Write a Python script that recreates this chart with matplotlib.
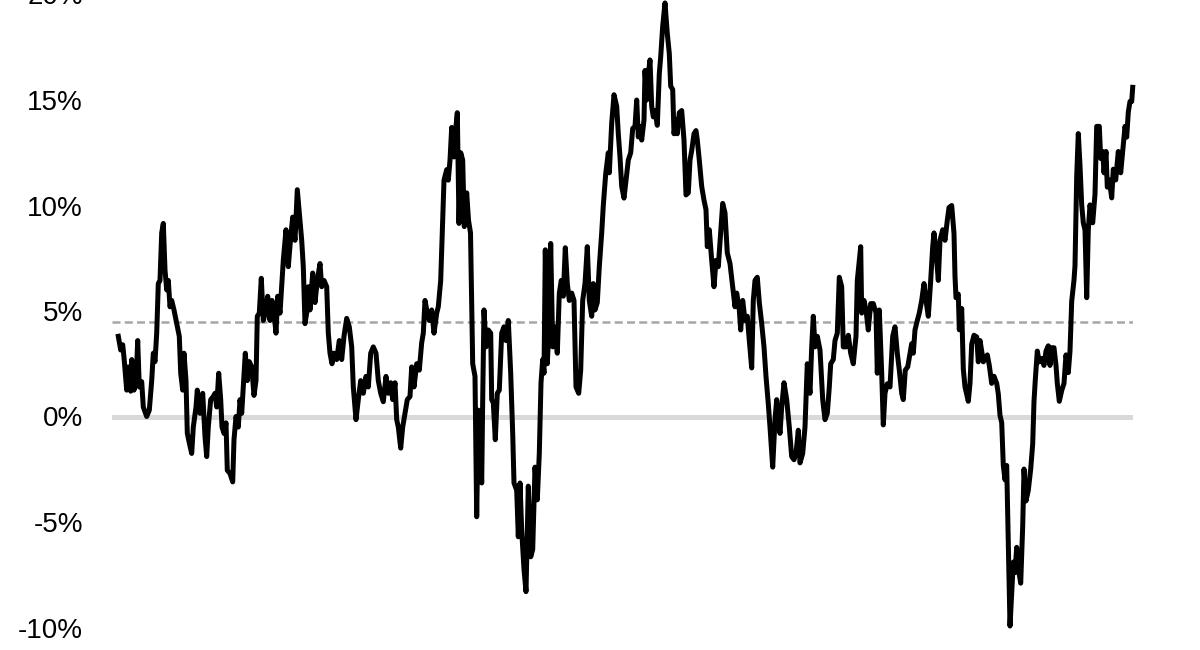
import matplotlib.pyplot as plt
from matplotlib.ticker import FuncFormatter

plt.rcParams['font.family'] = ['Liberation Sans', 'DejaVu Sans']

# time position (periods) and value in %
t = [0.3, 2.7, 4.7, 6, 8.7, 10.3, 12.7, 13.7, 16, 18,
     19.7, 21.3, 23.7, 25.3, 28.7, 31.3, 33.7, 35.3, 37, 38.7,
     40.3, 42, 43.7, 45.3, 47, 48.7, 50.3, 52, 53.7, 56,
     58.7, 61.3, 62.7, 64.7, 66, 68, 69.3, 71.3, 73.7, 75.3,
     78, 79.3, 82, 84.7, 87, 88.7, 90.3, 92.7, 95.3, 97,
     98.7, 100.7, 102.7, 104, 106, 108, 109.3, 112, 114.7, 116,
     118, 120.3, 122, 123.7, 125.3, 127.3, 129.3, 131.3, 133.7, 136,
     138, 139.3, 141.3, 143.3, 145.3, 147.3, 149.7, 152, 154, 156,
     158, 159.7, 162, 165.3, 168, 170.3, 172.7, 174.7, 177, 179.3,
     181.3, 183.7, 185.3, 187, 188.7, 190.3, 192, 194.7, 197, 199.3,
     202, 203.7, 206, 208.7, 210.3, 212, 214, 216, 218.7, 221.3,
     223.7, 226, 228.7, 231.3, 233.7, 235.3, 238, 240.3, 242.7, 245.3,
     248, 250.3, 252.7, 255.3, 258, 260.3, 262.7, 265.3, 268, 270.3,
     272.7, 274.7, 277, 278.7, 280.3, 282.7, 284.7, 287, 289.3, 292,
     293.7, 296, 298.7, 301.3, 303.7, 305.3, 307, 309.3, 311.3, 313.7,
     316, 318.7, 320.3, 322.7, 324.7, 326, 328.7, 330.3, 332, 333.7,
     336, 337.3, 339.3, 341, 342.7, 344.7, 346.3, 348.7, 350.5, 352.5,
     354.7, 357, 358.7, 360.3, 362, 363.7, 364.7, 366, 368, 370.3,
     372.7, 373.7, 375.3, 377.3, 379.3, 381.3, 383.7, 386, 388, 390.3,
     392.7, 394.7, 396, 398.7, 400.3, 402, 403.7, 406, 408, 410.3,
     412.7, 414.7, 417, 419.3, 421.3, 423, 424.7, 426, 427.3, 429.3,
     431.3, 432.7, 434.7, 436.7, 439.3, 441.3, 443.3, 445.3, 447.3, 449.3,
     451.3, 453.7, 456, 458, 460.7, 462.7, 464.7, 467, 469.3, 471.3,
     473.7, 475.3, 477, 479.3, 481.3, 483.7, 485.3, 487.7, 490.3, 491.3,
     493.7, 496, 498.7, 500.3, 502, 503.7, 506, 508, 510.3, 512.7,
     514.7, 517, 518.7, 520.3, 522, 523.7, 526, 527, 528.7, 530.3,
     532, 533.7, 535.3, 537, 539.3, 541.3, 542.7, 544.7, 547, 549.3,
     551.3, 552.7, 554.7, 556, 558, 559.3, 561.3, 563.7, 566, 568,
     570.3, 572, 573.7, 576, 578, 579.3, 581.3, 583.7, 586, 588,
     589.3, 591.3, 593.7, 596, 598, 600.3, 602.7, 604.7, 607, 609.3,
     612, 614.7, 617, 618.7, 621.3, 622.7, 624.7, 627, 629.3, 631.3,
     633.7, 635.3, 637, 639.3, 641.3, 643.7, 646, 648, 650.3, 652,
     654.7, 657, 658.7, 660.3, 662, 663.7, 666, 668.7, 671.3, 673.7,
     676, 678, 680.3, 682, 684.7, 687, 689.3, 692, 693.7, 695.3,
     697, 699.3, 702, 704.7, 707, 709.3, 711.3, 712.7, 715.3, 717,
     719.3, 721.3, 723.7, 725.3, 728, 730.3, 732.7, 735.3, 738, 739.3,
     741.3, 742.7, 743.7, 746, 748, 750.3, 752.7, 755.3, 758, 759.3,
     761.3, 763.7, 765.3, 767, 769.3, 772, 774.7, 777, 779.3, 781.3,
     783.7, 785.3, 787.3, 789.7, 792, 793.7, 795.3, 797, 799.3, 801.3,
     803.7, 806, 808, 810.3, 812.7, 814.7, 816, 818.7, 820.3, 822,
     824.7, 827, 829.3, 831, 833.7, 836, 837, 838, 840.3, 841.3,
     843.7, 845.3, 847, 850.3, 852, 853.7, 856, 858.7, 860.3, 862,
     863.7, 865.3, 869.3, 871.3, 873.7, 876, 878.7, 880.3, 882, 883.7,
     885.3, 887, 888.7, 890.3, 892, 893.7, 895.3, 897, 898.7, 900.3,
     902.7, 904.7, 906, 908, 910.3, 912.7, 914.7, 916, 917.3, 919.3,
     921.3, 923.7, 926, 928, 930.3, 932, 933.7, 936, 938, 939.3,
     941.3, 943.7, 946, 948, 950.3, 952, 953.7, 956, 957, 958.7,
     960.3, 962, 963.7, 965.3, 967, 968.7, 970.3, 972, 974.7, 977,
     978.7, 981.3, 982.7, 984.7, 986, 988, 989.3, 991.3, 993.7, 995.3,
     997.7, 1000.3, 1002.7, 1004.7, 1007, 1008.7, 1010.3, 1012, 1013.7, 1014.7]

excess = [3.8, 3.15, 3.4, 2.8, 1.25, 2.35, 1.2, 2.7, 1.25, 1.6,
          3.6, 1.4, 1.65, 0.45, 0.0, 0.3, 1.7, 3.0, 2.6, 3.95,
          6.3, 6.45, 8.7, 9.15, 6.95, 6.0, 6.45, 5.2, 5.5, 5.05,
          4.4, 3.8, 2.05, 1.25, 3.0, 1.7, -0.8, -1.25, -1.75, -0.5,
          0.45, 1.25, 0.15, 1.1, -0.95, -1.9, -0.5, 0.8, 0.95, 1.1,
          0.45, 2.05, 0.8, -0.5, -0.8, -0.3, -2.55, -2.7, -3.1, -1.1,
          0.0, -0.5, 0.8, 0.15, 1.4, 3.0, 1.7, 2.6, 2.35, 1.0,
          1.7, 4.75, 4.9, 6.55, 4.55, 4.9, 5.7, 4.55, 5.5, 4.9,
          3.95, 5.7, 4.9, 7.4, 8.85, 7.1, 8.5, 9.45, 8.35, 10.75,
          9.65, 8.35, 7.1, 4.4, 4.9, 6.15, 5.05, 6.8, 5.4, 6.45,
          7.25, 6.15, 6.45, 6.15, 3.95, 3.0, 2.5, 3.0, 2.7, 3.6,
          2.7, 3.8, 4.65, 4.25, 3.3, 1.4, -0.15, 0.8, 1.7, 1.1,
          1.9, 1.4, 3.0, 3.3, 3.0, 1.7, 1.1, 0.7, 1.9, 1.1,
          1.6, 0.8, 1.6, -0.15, -0.5, -1.5, -0.5, 0.15, 0.8, 0.95,
          2.35, 1.4, 2.5, 2.2, 3.5, 3.95, 5.5, 4.9, 4.55, 5.05,
          3.95, 4.9, 5.2, 6.45, 9.3, 11.2, 11.7, 11.2, 12.15, 13.7,
          12.3, 13.4, 14.4, 9.15, 12.5, 12.15, 9.0, 10.6, 9.3, 8.7,
          2.5, 1.9, -4.75, 0.3, -1.1, -3.15, 0.8, 5.05, 3.3, 4.1,
          3.95, 0.8, 0.65, -1.1, 1.1, 1.25, 3.95, 4.25, 3.6, 4.55,
          2.05, -0.8, -3.15, -3.5, -5.7, -3.15, -5.4, -7.25, -8.3, -3.3,
          -6.65, -6.3, -2.4, -3.95, -1.75, 1.6, 2.7, 2.05, 7.9, 2.5,
          4.55, 8.2, 3.3, 4.25, 3.0, 5.85, 6.45, 5.7, 8.0, 6.3,
          5.5, 5.85, 5.5, 1.4, 1.1, 2.2, 5.5, 6.3, 8.05, 5.5,
          4.75, 6.3, 5.05, 5.4, 7.1, 8.7, 10.0, 11.5, 12.5, 11.55,
          13.9, 15.25, 14.7, 13.4, 12.3, 10.9, 10.35, 11.2, 12.15, 12.5,
          13.65, 13.75, 15.0, 13.25, 13.75, 13.1, 14.05, 16.4, 15.0, 16.25,
          16.9, 14.7, 14.2, 14.5, 13.8, 16.25, 17.05, 18.5, 19.6, 18.15,
          17.2, 15.65, 15.5, 13.4, 14.05, 13.4, 14.4, 14.5, 13.1, 10.5,
          10.6, 12.15, 12.6, 13.4, 13.55, 13.1, 12.15, 10.9, 10.25, 9.8,
          8.05, 8.85, 7.4, 6.15, 7.4, 7.1, 8.7, 10.1, 9.65, 7.75,
          7.25, 6.15, 5.2, 5.85, 5.05, 4.1, 5.5, 4.55, 4.75, 3.6,
          2.3, 5.5, 6.45, 6.6, 5.4, 4.4, 3.3, 1.9, 0.6, -0.5,
          -2.4, -0.15, 0.8, -0.15, -0.8, 0.45, 1.6, 0.8, -0.5, -1.9,
          -2.05, -1.75, -0.65, -2.2, -1.75, -0.5, 2.5, 1.1, 3.3, 4.75,
          3.3, 3.8, 3.15, 0.8, -0.15, 0.15, 1.4, 2.5, 2.7, 3.6,
          3.95, 6.6, 6.15, 3.3, 3.3, 3.85, 3.0, 2.5, 3.8, 6.45,
          7.4, 8.05, 4.9, 5.5, 5.05, 4.1, 5.35, 5.35, 4.9, 2.05,
          5.05, 2.05, -0.4, 1.1, 1.55, 1.4, 3.8, 4.25, 3.0, 2.2,
          1.1, 0.8, 2.2, 2.35, 3.0, 3.45, 3.0, 4.1, 4.55, 4.9,
          5.5, 6.3, 5.5, 4.75, 6.45, 8.05, 8.7, 7.4, 6.45, 8.35,
          8.85, 8.35, 9.3, 9.9, 10.0, 8.67, 6.64, 5.63, 5.8, 4.11,
          5.12, 2.25, 1.4, 0.72, 1.57, 3.43, 3.85, 3.77, 2.59, 3.6,
          3.1, 2.59, 2.92, 2.42, 1.57, 1.91, 1.57, 1.07, 0.05, -0.29,
          -2.32, -3.0, -2.32, -6.04, -9.93, -8.4, -6.9, -7.4, -6.2, -7.2,
          -7.9, -5.2, -2.49, -4.0, -3.5, -2.49, -1.3, 0.72, 1.74, 3.1,
          2.59, 2.75, 2.42, 3.1, 3.35, 2.42, 3.26, 3.26, 2.42, 1.57,
          0.72, 1.23, 1.57, 2.92, 2.08, 3.1, 5.46, 6.47, 7.15, 11.38,
          13.41, 11.89, 10.03, 9.18, 8.84, 5.63, 8.84, 10.03, 9.18, 10.54,
          13.75, 13.75, 12.23, 12.56, 11.55, 12.56, 10.87, 11.21, 10.36, 11.72,
          11.21, 12.56, 11.55, 12.56, 13.75, 13.24, 14.43, 14.93, 14.93, 15.6]

average = 4.46
yticks = [-10, -5, 0, 5, 10, 15, 20]

n = min(len(t), len(excess))

fig = plt.figure(figsize=(12, 6.5), dpi=100)
ax = fig.add_axes([112 / 1200, 22.5 / 650, 1021 / 1200, 633 / 650])

ax.axhline(0, color='#D9D9D9', lw=3.6, zorder=1)
ax.axhline(average, color='#A6A6A6', lw=1.8, linestyle=(0, (3.2, 1.7)), zorder=1)
ax.plot(t[:n], excess[:n], color='black', lw=3.6, zorder=3, clip_on=False)

ax.set_xlim(-6, 1015)
ax.set_ylim(-10, 20)
ax.set_yticks(yticks)
ax.yaxis.set_major_formatter(FuncFormatter(lambda v, p: f"{v:.0f}%"))
ax.tick_params(axis='y', length=0, pad=21, labelsize=20, labelcolor='black')
ax.set_xticks([])
for s in ax.spines.values():
    s.set_visible(False)

fig.savefig('out.png', dpi=100)
